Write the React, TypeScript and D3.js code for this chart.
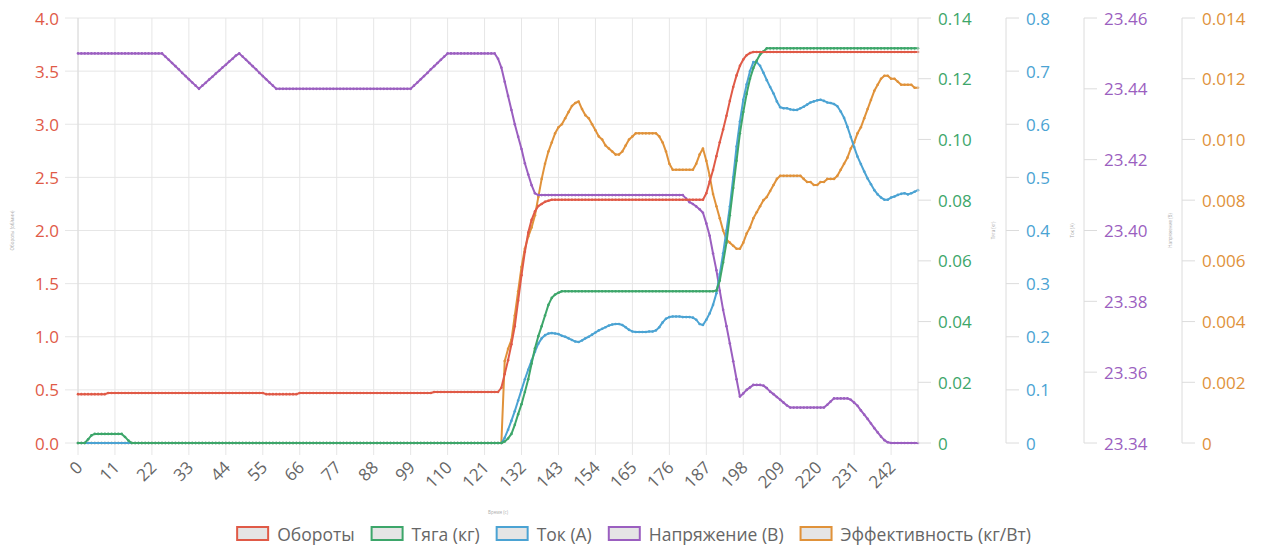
import React, { useMemo } from 'react';
import * as d3 from 'd3';

const W = 1268;
const H = 553;
const FONT = '"Open Sans", "DejaVu Sans", sans-serif';

const SERIES_NAMES = ['Обороты', 'Тяга (кг)', 'Ток (А)', 'Напряжение (В)', 'Эффективность (кг/Вт)'];
const AXIS_TITLES = ['Обороты (об/мин)', 'Тяга (кг)', 'Ток (А)', 'Напряжение (В)', ''];
const X_TITLE = 'Время (с)';
const COLORS = ['#e05a47', '#3da66a', '#4ba3d3', '#9b5fc0', '#e0923a'];

// Обороты (left axis)
const RPM = [
  0.46,0.46,0.46,0.46,0.46,0.46,0.46,0.46,0.46,0.47,
  0.47,0.47,0.47,0.47,0.47,0.47,0.47,0.47,0.47,0.47,
  0.47,0.47,0.47,0.47,0.47,0.47,0.47,0.47,0.47,0.47,
  0.47,0.47,0.47,0.47,0.47,0.47,0.47,0.47,0.47,0.47,
  0.47,0.47,0.47,0.47,0.47,0.47,0.47,0.47,0.47,0.47,
  0.47,0.47,0.47,0.47,0.47,0.47,0.46,0.46,0.46,0.46,
  0.46,0.46,0.46,0.46,0.46,0.46,0.47,0.47,0.47,0.47,
  0.47,0.47,0.47,0.47,0.47,0.47,0.47,0.47,0.47,0.47,
  0.47,0.47,0.47,0.47,0.47,0.47,0.47,0.47,0.47,0.47,
  0.47,0.47,0.47,0.47,0.47,0.47,0.47,0.47,0.47,0.47,
  0.47,0.47,0.47,0.47,0.47,0.47,0.48,0.48,0.48,0.48,
  0.48,0.48,0.48,0.48,0.48,0.48,0.48,0.48,0.48,0.48,
  0.48,0.48,0.48,0.48,0.48,0.48,0.52,0.65,0.78,0.93,
  1.10,1.34,1.58,1.80,1.98,2.10,2.18,2.23,2.25,2.27,
  2.28,2.29,2.29,2.29,2.29,2.29,2.29,2.29,2.29,2.29,
  2.29,2.29,2.29,2.29,2.29,2.29,2.29,2.29,2.29,2.29,
  2.29,2.29,2.29,2.29,2.29,2.29,2.29,2.29,2.29,2.29,
  2.29,2.29,2.29,2.29,2.29,2.29,2.29,2.29,2.29,2.29,
  2.29,2.29,2.29,2.29,2.29,2.29,2.29,2.35,2.46,2.57,
  2.70,2.83,2.95,3.08,3.22,3.35,3.46,3.55,3.61,3.65,
  3.67,3.68,3.68,3.68,3.68,3.68,3.68,3.68,3.68,3.68,
  3.68,3.68,3.68,3.68,3.68,3.68,3.68,3.68,3.68,3.68,
  3.68,3.68,3.68,3.68,3.68,3.68,3.68,3.68,3.68,3.68,
  3.68,3.68,3.68,3.68,3.68,3.68,3.68,3.68,3.68,3.68,
  3.68,3.68,3.68,3.68,3.68,3.68,3.68,3.68,3.68,3.68,
  3.68,
];

// Тяга (кг)
const THRUST = [
  0,0,0,0.0012,0.0025,0.003,0.003,0.003,0.003,0.003,
  0.003,0.003,0.003,0.003,0.002,0.0008,0,0,0,0,
  0,0,0,0,0,0,0,0,0,0,
  0,0,0,0,0,0,0,0,0,0,
  0,0,0,0,0,0,0,0,0,0,
  0,0,0,0,0,0,0,0,0,0,
  0,0,0,0,0,0,0,0,0,0,
  0,0,0,0,0,0,0,0,0,0,
  0,0,0,0,0,0,0,0,0,0,
  0,0,0,0,0,0,0,0,0,0,
  0,0,0,0,0,0,0,0,0,0,
  0,0,0,0,0,0,0,0,0,0,
  0,0,0,0,0,0,0,0.0005,0.0015,0.003,
  0.006,0.0095,0.0128,0.0168,0.021,0.0262,0.0312,0.0352,0.0385,0.042,
  0.0455,0.0478,0.0489,0.0495,0.05,0.05,0.05,0.05,0.05,0.05,
  0.05,0.05,0.05,0.05,0.05,0.05,0.05,0.05,0.05,0.05,
  0.05,0.05,0.05,0.05,0.05,0.05,0.05,0.05,0.05,0.05,
  0.05,0.05,0.05,0.05,0.05,0.05,0.05,0.05,0.05,0.05,
  0.05,0.05,0.05,0.05,0.05,0.05,0.05,0.05,0.05,0.05,
  0.0502,0.0535,0.0595,0.066,0.075,0.084,0.093,0.102,0.109,0.115,
  0.12,0.1235,0.126,0.128,0.129,0.13,0.13,0.13,0.13,0.13,
  0.13,0.13,0.13,0.13,0.13,0.13,0.13,0.13,0.13,0.13,
  0.13,0.13,0.13,0.13,0.13,0.13,0.13,0.13,0.13,0.13,
  0.13,0.13,0.13,0.13,0.13,0.13,0.13,0.13,0.13,0.13,
  0.13,0.13,0.13,0.13,0.13,0.13,0.13,0.13,0.13,0.13,
  0.13,
];

// Ток (А)
const CURRENT = [
  0,0,0,0,0,0,0,0,0,0,
  0,0,0,0,0,0,0,0,0,0,
  0,0,0,0,0,0,0,0,0,0,
  0,0,0,0,0,0,0,0,0,0,
  0,0,0,0,0,0,0,0,0,0,
  0,0,0,0,0,0,0,0,0,0,
  0,0,0,0,0,0,0,0,0,0,
  0,0,0,0,0,0,0,0,0,0,
  0,0,0,0,0,0,0,0,0,0,
  0,0,0,0,0,0,0,0,0,0,
  0,0,0,0,0,0,0,0,0,0,
  0,0,0,0,0,0,0,0,0,0,
  0,0,0,0,0,0,0,0.01,0.025,0.042,
  0.06,0.08,0.1,0.12,0.138,0.155,0.172,0.187,0.197,0.203,
  0.206,0.207,0.206,0.205,0.202,0.2,0.197,0.194,0.191,0.19,
  0.193,0.197,0.2,0.204,0.208,0.212,0.215,0.218,0.221,0.223,
  0.224,0.224,0.222,0.218,0.213,0.21,0.209,0.209,0.209,0.209,
  0.21,0.21,0.212,0.218,0.227,0.234,0.237,0.238,0.238,0.238,
  0.237,0.237,0.237,0.236,0.232,0.224,0.222,0.232,0.244,0.26,
  0.282,0.318,0.357,0.4,0.445,0.5,0.558,0.605,0.646,0.675,
  0.7,0.717,0.717,0.71,0.697,0.683,0.67,0.658,0.643,0.632,
  0.63,0.63,0.628,0.627,0.627,0.63,0.633,0.637,0.641,0.643,
  0.645,0.646,0.644,0.641,0.64,0.638,0.634,0.624,0.612,0.595,
  0.576,0.557,0.539,0.525,0.511,0.498,0.487,0.476,0.468,0.462,
  0.458,0.458,0.462,0.464,0.467,0.469,0.47,0.468,0.47,0.473,
  0.476,
];

// Напряжение (В)
const VOLTAGE = [
  23.45,23.45,23.45,23.45,23.45,23.45,23.45,23.45,23.45,23.45,
  23.45,23.45,23.45,23.45,23.45,23.45,23.45,23.45,23.45,23.45,
  23.45,23.45,23.45,23.45,23.45,23.45,23.4491,23.4482,23.4473,23.4464,
  23.4455,23.4445,23.4436,23.4427,23.4418,23.4409,23.44,23.4409,23.4417,23.4426,
  23.4434,23.4443,23.4451,23.446,23.4468,23.4477,23.4485,23.4494,23.45,23.4491,
  23.4482,23.4473,23.4464,23.4455,23.4445,23.4436,23.4427,23.4418,23.4409,23.44,
  23.44,23.44,23.44,23.44,23.44,23.44,23.44,23.44,23.44,23.44,
  23.44,23.44,23.44,23.44,23.44,23.44,23.44,23.44,23.44,23.44,
  23.44,23.44,23.44,23.44,23.44,23.44,23.44,23.44,23.44,23.44,
  23.44,23.44,23.44,23.44,23.44,23.44,23.44,23.44,23.44,23.44,
  23.4409,23.4418,23.4427,23.4436,23.4445,23.4455,23.4464,23.4473,23.4482,23.4491,
  23.45,23.45,23.45,23.45,23.45,23.45,23.45,23.45,23.45,23.45,
  23.45,23.45,23.45,23.45,23.45,23.4485,23.446,23.442,23.438,23.434,
  23.43,23.4265,23.423,23.419,23.4158,23.4128,23.4105,23.41,23.41,23.41,
  23.41,23.41,23.41,23.41,23.41,23.41,23.41,23.41,23.41,23.41,
  23.41,23.41,23.41,23.41,23.41,23.41,23.41,23.41,23.41,23.41,
  23.41,23.41,23.41,23.41,23.41,23.41,23.41,23.41,23.41,23.41,
  23.41,23.41,23.41,23.41,23.41,23.41,23.41,23.41,23.41,23.41,
  23.41,23.409,23.408,23.4075,23.4068,23.406,23.405,23.402,23.3985,23.3935,
  23.3888,23.383,23.3776,23.373,23.3681,23.3631,23.358,23.3531,23.354,23.355,
  23.3557,23.3564,23.3564,23.3564,23.3562,23.3555,23.3545,23.3538,23.353,23.3522,
  23.3514,23.3506,23.35,23.35,23.35,23.35,23.35,23.35,23.35,23.35,
  23.35,23.35,23.35,23.3508,23.3517,23.3526,23.3526,23.3526,23.3526,23.3526,
  23.3522,23.3514,23.3505,23.3492,23.348,23.3468,23.3455,23.3442,23.343,23.3418,
  23.3408,23.3402,23.34,23.34,23.34,23.34,23.34,23.34,23.34,23.34,
  23.34,
];

// Эффективность (кг/Вт)
const EFFICIENCY = [
  0,0,0,0,0,0,0,0,0,0,
  0,0,0,0,0,0,0,0,0,0,
  0,0,0,0,0,0,0,0,0,0,
  0,0,0,0,0,0,0,0,0,0,
  0,0,0,0,0,0,0,0,0,0,
  0,0,0,0,0,0,0,0,0,0,
  0,0,0,0,0,0,0,0,0,0,
  0,0,0,0,0,0,0,0,0,0,
  0,0,0,0,0,0,0,0,0,0,
  0,0,0,0,0,0,0,0,0,0,
  0,0,0,0,0,0,0,0,0,0,
  0,0,0,0,0,0,0,0,0,0,
  0,0,0,0,0,0,0,0.0027,0.0031,0.0034,
  0.0042,0.005,0.0058,0.0064,0.0068,0.0071,0.0075,0.0081,0.0087,0.0092,
  0.0096,0.0099,0.0102,0.0104,0.0105,0.0107,0.0109,0.0111,0.0112,0.01125,
  0.011,0.0108,0.0107,0.0105,0.0103,0.0101,0.01,0.0098,0.0097,0.0096,
  0.0095,0.0095,0.0096,0.0098,0.01,0.0101,0.0102,0.0102,0.0102,0.0102,
  0.0102,0.0102,0.0102,0.0101,0.0099,0.0096,0.0092,0.009,0.009,0.009,
  0.009,0.009,0.009,0.009,0.0092,0.0095,0.0097,0.0093,0.0088,0.0082,
  0.0078,0.0074,0.007,0.0067,0.0066,0.0065,0.0064,0.0064,0.0066,0.0069,
  0.0071,0.0074,0.0076,0.0078,0.008,0.0081,0.0083,0.0085,0.0087,0.0088,
  0.0088,0.0088,0.0088,0.0088,0.0088,0.0088,0.0087,0.0086,0.0086,0.0085,
  0.0085,0.0086,0.0086,0.0087,0.0087,0.0087,0.0088,0.009,0.0092,0.0094,
  0.0097,0.0099,0.0102,0.0104,0.0107,0.011,0.0113,0.0116,0.0118,0.012,
  0.0121,0.0121,0.012,0.012,0.0119,0.0118,0.0118,0.0118,0.0118,0.0117,
  0.0117,
];

const X_TICKS = [0, 11, 22, 33, 44, 55, 66, 77, 88, 99, 110, 121, 132, 143, 154, 165, 176, 187, 198, 209, 220, 231, 242];

const RPM_TICKS = [0, 0.5, 1, 1.5, 2, 2.5, 3, 3.5, 4];
const RPM_LABELS = ['0.0', '0.5', '1.0', '1.5', '2.0', '2.5', '3.0', '3.5', '4.0'];
const THRUST_TICKS = [0, 0.02, 0.04, 0.06, 0.08, 0.1, 0.12, 0.14];
const THRUST_LABELS = ['0', '0.02', '0.04', '0.06', '0.08', '0.10', '0.12', '0.14'];
const CURRENT_TICKS = [0, 0.1, 0.2, 0.3, 0.4, 0.5, 0.6, 0.7, 0.8];
const CURRENT_LABELS = ['0', '0.1', '0.2', '0.3', '0.4', '0.5', '0.6', '0.7', '0.8'];
const VOLTAGE_TICKS = [23.34, 23.36, 23.38, 23.4, 23.42, 23.44, 23.46];
const VOLTAGE_LABELS = ['23.34', '23.36', '23.38', '23.40', '23.42', '23.44', '23.46'];
const EFF_TICKS = [0, 0.002, 0.004, 0.006, 0.008, 0.01, 0.012, 0.014];
const EFF_LABELS = ['0', '0.002', '0.004', '0.006', '0.008', '0.010', '0.012', '0.014'];

const TICK_FONT = 17;
const LEGEND_FONT = 17.5;

function measure(text: string, size: number): number {
  const c = document.createElement('canvas').getContext('2d');
  if (!c) return text.length * size * 0.55;
  c.font = `${size}px ${FONT}`;
  return c.measureText(text).width;
}

export default function App() {
  const left = 78, right = 918, top = 18, bottom = 443;
  const n = RPM.length;
  const x = d3.scaleLinear().domain([0, n - 1]).range([left, right]);

  const axes = [
    { data: RPM, domain: [0, 4], ticks: RPM_TICKS, labels: RPM_LABELS, side: 'left', pos: left, titleX: 12 },
    { data: THRUST, domain: [0, 0.14], ticks: THRUST_TICKS, labels: THRUST_LABELS, side: 'right', pos: right, titleX: 993 },
    { data: CURRENT, domain: [0, 0.8], ticks: CURRENT_TICKS, labels: CURRENT_LABELS, side: 'right', pos: 1006, titleX: 1072 },
    { data: VOLTAGE, domain: [23.34, 23.46], ticks: VOLTAGE_TICKS, labels: VOLTAGE_LABELS, side: 'right', pos: 1084, titleX: 1170 },
    { data: EFFICIENCY, domain: [0, 0.014], ticks: EFF_TICKS, labels: EFF_LABELS, side: 'right', pos: 1182, titleX: 0 },
  ].map((a, i) => ({
    ...a,
    color: COLORS[i],
    name: SERIES_NAMES[i],
    title: AXIS_TITLES[i],
    scale: d3.scaleLinear().domain(a.domain).range([bottom, top]),
  }));

  const yLeft = axes[0].scale;

  const legend = useMemo(() => {
    const boxW = 31, gapText = 9, gapItem = 17;
    const widths = SERIES_NAMES.map((s) => measure(s, LEGEND_FONT));
    const total = widths.reduce((s, w) => s + boxW + gapText + w, 0) + gapItem * (SERIES_NAMES.length - 1);
    let cx = W / 2 - total / 2;
    return SERIES_NAMES.map((s, i) => {
      const item = { name: s, color: COLORS[i], bx: cx, tx: cx + boxW + gapText };
      cx += boxW + gapText + widths[i] + gapItem;
      return item;
    });
  }, []);

  const order = [4, 3, 2, 1, 0];

  return (
    <svg width={W} height={H} style={{ position: 'absolute', left: 0, top: 0, background: '#fff' }} fontFamily={FONT}>
      {/* grid */}
      <g stroke="#e6e6e6" strokeWidth={1}>
        {RPM_TICKS.map((t) => (
          <line key={'h' + t} x1={left - 13} x2={right} y1={yLeft(t)} y2={yLeft(t)} />
        ))}
        {X_TICKS.map((t) => (
          <line key={'v' + t} x1={x(t)} x2={x(t)} y1={top} y2={bottom + 12} />
        ))}
      </g>
      <line x1={left} x2={left} y1={top} y2={bottom} stroke="#dcdcdc" />

      {/* series */}
      {order.map((i) => {
        const a = axes[i];
        const line = d3.line<number>().x((_, k) => x(k)).y((v) => a.scale(v));
        return (
          <g key={'s' + i}>
            <path d={line(a.data) || ''} fill="none" stroke={a.color} strokeWidth={2} strokeLinejoin="round" />
            {a.data.map((v, k) => (
              <circle key={k} cx={x(k)} cy={a.scale(v)} r={1.3} fill={a.color} />
            ))}
          </g>
        );
      })}

      {/* axes */}
      {axes.map((a, i) => (
        <g key={'ax' + i} fill={a.color} fontSize={TICK_FONT}>
          {a.side === 'right' && (
            <line x1={a.pos} x2={a.pos} y1={top} y2={bottom} stroke="#dcdcdc" />
          )}
          {a.ticks.map((t, k) => (
            <g key={k}>
              {a.side === 'right' && (
                <line x1={a.pos} x2={a.pos + 13} y1={a.scale(t)} y2={a.scale(t)} stroke="#dcdcdc" />
              )}
              <text
                x={a.side === 'left' ? a.pos - 19 : a.pos + 20}
                y={a.scale(t)}
                textAnchor={a.side === 'left' ? 'end' : 'start'}
                dominantBaseline="central"
              >
                {a.labels[k]}
              </text>
            </g>
          ))}
          {a.title && (
            <text
              transform={`translate(${a.titleX},${(top + bottom) / 2}) rotate(-90)`}
              textAnchor="middle"
              dominantBaseline="central"
              fontSize={4.5}
              fill="#aaa"
            >
              {a.title}
            </text>
          )}
        </g>
      ))}

      {/* x tick labels */}
      <g fill="#666" fontSize={TICK_FONT}>
        {X_TICKS.map((t) => (
          <text
            key={'xl' + t}
            transform={`translate(${x(t) + 1},${464}) rotate(-45)`}
            textAnchor="end"
            dominantBaseline="central"
          >
            {t}
          </text>
        ))}
      </g>
      <text x={(left + right) / 2} y={512} textAnchor="middle" dominantBaseline="central" fontSize={4.5} fill="#aaa">
        {X_TITLE}
      </text>

      {/* legend */}
      {legend.map((l) => (
        <g key={l.name}>
          <rect x={l.bx} y={527} width={31} height={13} fill="rgba(0,0,0,0.1)" stroke={l.color} strokeWidth={2} />
          <text x={l.tx} y={533.5} dominantBaseline="central" fontSize={LEGEND_FONT} fill="#666">
            {l.name}
          </text>
        </g>
      ))}
    </svg>
  );
}
